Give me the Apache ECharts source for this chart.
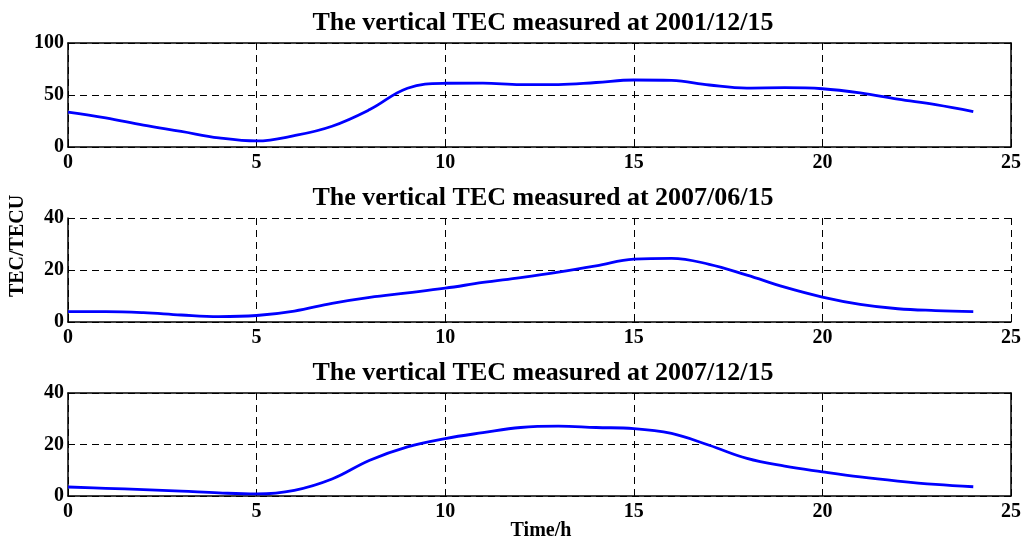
<!DOCTYPE html>
<html><head><meta charset="utf-8">
<script src="https://cdn.jsdelivr.net/npm/echarts@6/dist/echarts.min.js"></script>
<style>html,body{margin:0;padding:0;background:#fff}#c{width:1027px;height:540px}</style>
</head><body><div id="c"></div>
<script>
// ---- data ----
const hours = [0,1,2,3,4,5,6,7,8,9,10,11,12,13,14,15,16,17,18,19,20,21,22,23,24];
const tec2001_12 = [33.6,28,21,15,8.8,5.8,10.9,20,36,56.5,61.3,61.5,60,60,62,64.4,64,59.6,56.7,57,56,52,46,40.7,34];
const tec2007_06 = [4.0,4.0,3.6,2.7,2.1,2.5,4.2,7.2,9.5,11.2,13,15.2,17.1,19.2,21.6,24.2,24.5,22.2,18,13.4,9.6,6.8,5.1,4.4,4.0];
const tec2007_12 = [3.5,3.0,2.5,1.9,1.2,0.8,2.2,6.6,13.9,19.1,22.3,24.6,26.6,27.1,26.6,26.2,24.3,19.7,14.6,11.6,9.4,7.4,5.8,4.5,3.6];
const titles = ['The vertical TEC measured at 2001/12/15','The vertical TEC measured at 2007/06/15','The vertical TEC measured at 2007/12/15'];
const xMin = 0, xMax = 25, xStep = 5;
const yMaxes = [100, 40, 40];
const ySteps = [50, 20, 20];
const yAxisLabel = 'TEC/TECU';
const xAxisLabel = 'Time/h';

// ---- layout / style ----
const FONT = "'Liberation Serif','Times New Roman',serif";
const series_data = [tec2001_12, tec2007_06, tec2007_12];
const boxed = [true, false, true];
const gridTops = [43, 218, 393];
const gridHeights = [104, 104, 103];
const titleTops = [5, 180, 355];

const grids = [], xAxes = [], yAxes = [], series = [], titleArr = [];
const dashed = {show:true, lineStyle:{color:'#000', type:[7,5], width:1}};
const solidLine = {show:true, onZero:false, lineStyle:{color:'#000', width:1.5}};
const tick = {show:true, inside:true, length:5, lineStyle:{color:'#000'}};

for (let i = 0; i < 3; i++) {
  grids.push({left:68, right:16, top:gridTops[i], height:gridHeights[i], containLabel:false});
  titleArr.push({text:titles[i], left:538, top:titleTops[i], textAlign:'center',
    textStyle:{fontFamily:FONT, fontWeight:'bold', fontSize:26, color:'#000'}});
  const xi = xAxes.length;
  xAxes.push({type:'value', gridIndex:i, position:'bottom', min:xMin, max:xMax, interval:xStep,
    axisLine:solidLine, axisTick:tick,
    axisLabel:{fontFamily:FONT, fontWeight:'bold', fontSize:20, color:'#000', margin:6, showMinLabel:true, showMaxLabel:true},
    splitLine:dashed});
  if (boxed[i]) {
    xAxes.push({type:'value', gridIndex:i, position:'top', min:xMin, max:xMax, interval:xStep,
      axisLine:solidLine, axisTick:tick, axisLabel:{show:false}, splitLine:{show:false}});
  }
  const yi = yAxes.length;
  yAxes.push({type:'value', gridIndex:i, position:'left', min:0, max:yMaxes[i], interval:ySteps[i],
    axisLine:solidLine, axisTick:tick,
    axisLabel:{fontFamily:FONT, fontWeight:'bold', fontSize:20, color:'#000', margin:4, showMinLabel:true, showMaxLabel:true},
    splitLine:dashed});
  if (boxed[i]) {
    yAxes.push({type:'value', gridIndex:i, position:'right', min:0, max:yMaxes[i], interval:ySteps[i],
      axisLine:solidLine, axisTick:tick, axisLabel:{show:false}, splitLine:{show:false}});
  }
  series.push({type:'line', xAxisIndex:xi, yAxisIndex:yi, showSymbol:false, symbol:'none', smooth:0.4,
    data: hours.map((h, k) => [h, series_data[i][k]]),
    lineStyle:{color:'#0000ff', width:2.8}, itemStyle:{color:'#0000ff'}, animation:false, z:5});
}

const chart = echarts.init(document.getElementById('c'), null, {renderer:'canvas'});
chart.setOption({
  animation:false,
  backgroundColor:'#fff',
  title:titleArr,
  grid:grids,
  xAxis:xAxes,
  yAxis:yAxes,
  series:series,
  graphic:[
    {type:'text', x:18, y:246, rotation:Math.PI/2,
      style:{text:yAxisLabel, font:"bold 20px 'Liberation Serif','Times New Roman',serif", fill:'#000', textAlign:'center', textVerticalAlign:'middle'}},
    {type:'text', x:541, y:531,
      style:{text:xAxisLabel, font:"bold 20px 'Liberation Serif','Times New Roman',serif", fill:'#000', textAlign:'center', textVerticalAlign:'middle'}}
  ]
});
</script>
</body></html>
